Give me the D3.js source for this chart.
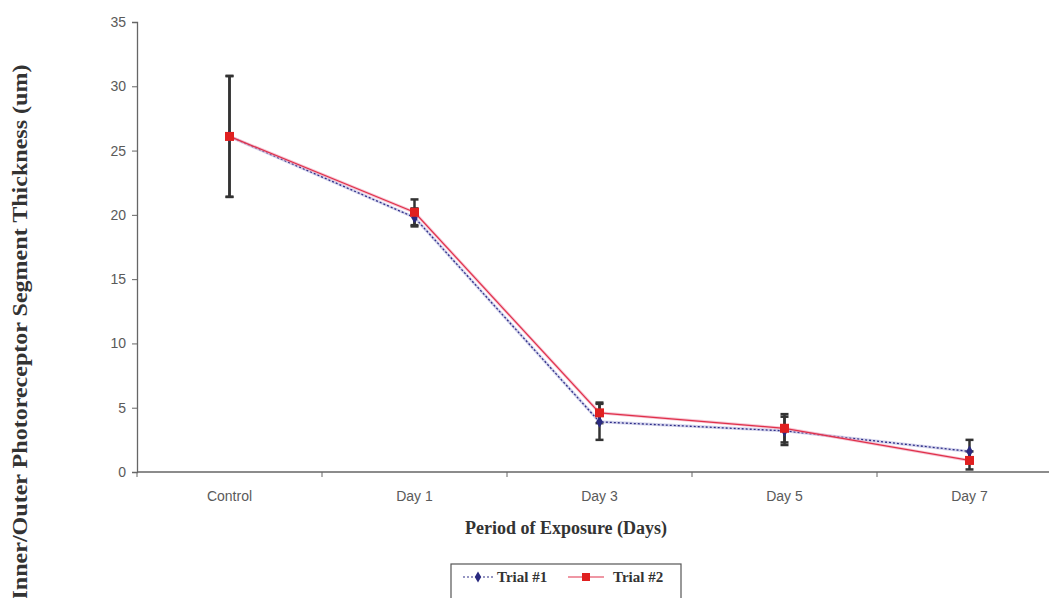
<!DOCTYPE html>
<html>
<head>
<meta charset="utf-8">
<script src="https://cdn.jsdelivr.net/npm/d3@7"></script>
<style>
  html, body { margin: 0; padding: 0; background: #fff; }
  svg { display: block; }
</style>
</head>
<body>
<svg id="chart" width="1049" height="598"></svg>
<script>
// Photoreceptor inner/outer segment thickness over exposure period
const categories = ["Control", "Day 1", "Day 3", "Day 5", "Day 7"];
const trial1 = [26.1, 19.8, 3.9, 3.2, 1.6];
const trial1Err = [4.7, 0.7, 1.4, 1.1, 0.9];
const trial2 = [26.1, 20.2, 4.6, 3.4, 0.9];
const trial2Err = [4.7, 1.0, 0.8, 1.1, 0.7];
const yTicks = [0, 5, 10, 15, 20, 25, 30, 35];
const seriesNames = ["Trial #1", "Trial #2"];

const svg = d3.select("#chart");
const plotLeft = 137, plotRight = 1062, plotTop = 22, plotBottom = 472;

const x = d3.scaleBand().domain(categories).range([plotLeft, plotRight]).padding(0);
const y = d3.scaleLinear().domain([0, 35]).range([plotBottom, plotTop]);
const cx = c => x(c) + x.bandwidth() / 2;

// Y axis
const yAxis = svg.append("g")
  .attr("transform", `translate(${plotLeft},0)`)
  .call(d3.axisLeft(y).tickValues(yTicks).tickSize(5).tickPadding(6).tickFormat(d3.format("d")));
yAxis.select(".domain").attr("stroke", "#666").attr("stroke-width", 1.3);
yAxis.selectAll(".tick line").attr("stroke", "#666");
yAxis.selectAll(".tick text")
  .attr("fill", "#5a5a5a").attr("font-family", "Liberation Sans, Arial, sans-serif").attr("font-size", 14);

// X axis: ticks at category boundaries
const xAxisG = svg.append("g").attr("transform", `translate(0,${plotBottom})`);
xAxisG.append("line").attr("x1", plotLeft).attr("x2", plotRight).attr("stroke", "#666").attr("stroke-width", 1.3);
xAxisG.selectAll("line.tk").data(categories).enter().append("line")
  .attr("class", "tk")
  .attr("x1", d => x(d)).attr("x2", d => x(d)).attr("y1", 0).attr("y2", 5)
  .attr("stroke", "#666");
xAxisG.selectAll("text").data(categories).enter().append("text")
  .attr("x", d => cx(d)).attr("y", 29)
  .attr("text-anchor", "middle")
  .attr("fill", "#5a5a5a").attr("font-family", "Liberation Sans, Arial, sans-serif").attr("font-size", 14)
  .text(d => d);

// Axis titles
svg.append("text")
  .attr("x", 566).attr("y", 534)
  .attr("text-anchor", "middle")
  .attr("font-family", "Liberation Serif, Times New Roman, serif")
  .attr("font-weight", "bold").attr("font-size", 18).attr("fill", "#333")
  .text("Period of Exposure (Days)");
svg.append("text")
  .attr("transform", "translate(27,332) rotate(-90)")
  .attr("text-anchor", "middle")
  .attr("font-family", "Liberation Serif, Times New Roman, serif")
  .attr("font-weight", "bold").attr("font-size", 21).attr("fill", "#333")
  .attr("textLength", 535).attr("lengthAdjust", "spacingAndGlyphs")
  .text("Inner/Outer Photoreceptor Segment Thickness (um)");

// Error bars
function errorBars(vals, errs) {
  const g = svg.append("g");
  categories.forEach((c, i) => {
    const x0 = cx(c), yt = y(vals[i] + errs[i]), yb = y(vals[i] - errs[i]);
    g.append("line").attr("x1", x0).attr("x2", x0).attr("y1", yt).attr("y2", yb)
      .attr("stroke", "#333").attr("stroke-width", 2.5);
    [yt, yb].forEach(yy => g.append("line")
      .attr("x1", x0 - 4).attr("x2", x0 + 4).attr("y1", yy).attr("y2", yy)
      .attr("stroke", "#333").attr("stroke-width", 2.5));
  });
}
errorBars(trial1, trial1Err);
errorBars(trial2, trial2Err);

const line = d3.line().x((d, i) => cx(categories[i])).y(d => y(d));

// Trial #1: navy dotted line with diamonds
svg.append("path").datum(trial1).attr("d", line)
  .attr("fill", "none").attr("stroke", "#b8b8e0").attr("stroke-width", 3).attr("opacity", 0.6);
svg.append("path").datum(trial1).attr("d", line)
  .attr("fill", "none").attr("stroke", "#2e2e88").attr("stroke-width", 1.3).attr("stroke-dasharray", "2,2");
svg.selectAll("path.m1").data(trial1).enter().append("path")
  .attr("class", "m1")
  .attr("transform", (d, i) => `translate(${cx(categories[i])},${y(d)})`)
  .attr("d", d3.symbol(d3.symbolDiamond, 40))
  .attr("fill", "#2a2a80");

// Trial #2: red line with squares
svg.append("path").datum(trial2).attr("d", line)
  .attr("fill", "none").attr("stroke", "#f0a0b8").attr("stroke-width", 3).attr("opacity", 0.6);
svg.append("path").datum(trial2).attr("d", line)
  .attr("fill", "none").attr("stroke", "#e0304a").attr("stroke-width", 1.2);
svg.selectAll("rect.m2").data(trial2).enter().append("rect")
  .attr("class", "m2")
  .attr("x", (d, i) => cx(categories[i]) - 4.5).attr("y", d => y(d) - 4.5)
  .attr("width", 9).attr("height", 9)
  .attr("fill", "#e02020");

// Legend
const lg = svg.append("g").attr("transform", "translate(451,564)");
lg.append("rect").attr("x", 0).attr("y", 0).attr("width", 230).attr("height", 40)
  .attr("fill", "#fff").attr("stroke", "#555").attr("stroke-width", 1.2);
// Trial #1 entry
lg.append("line").attr("x1", 12).attr("x2", 42).attr("y1", 13).attr("y2", 13)
  .attr("stroke", "#2e2e88").attr("stroke-width", 1.2).attr("stroke-dasharray", "2,2");
lg.append("path").attr("transform", "translate(27,13)").attr("d", d3.symbol(d3.symbolDiamond, 36)).attr("fill", "#2a2a80");
// Trial #2 entry
lg.append("line").attr("x1", 117).attr("x2", 153).attr("y1", 13).attr("y2", 13)
  .attr("stroke", "#e0304a").attr("stroke-width", 1.2);
lg.append("rect").attr("x", 131).attr("y", 9).attr("width", 8).attr("height", 8).attr("fill", "#e02020");
lg.selectAll("text").data(seriesNames).enter().append("text")
  .attr("x", (d, i) => i === 0 ? 46 : 162).attr("y", 18)
  .attr("font-family", "Liberation Serif, Times New Roman, serif")
  .attr("font-weight", "bold").attr("font-size", 15).attr("fill", "#333")
  .text(d => d);
</script>
</body>
</html>
